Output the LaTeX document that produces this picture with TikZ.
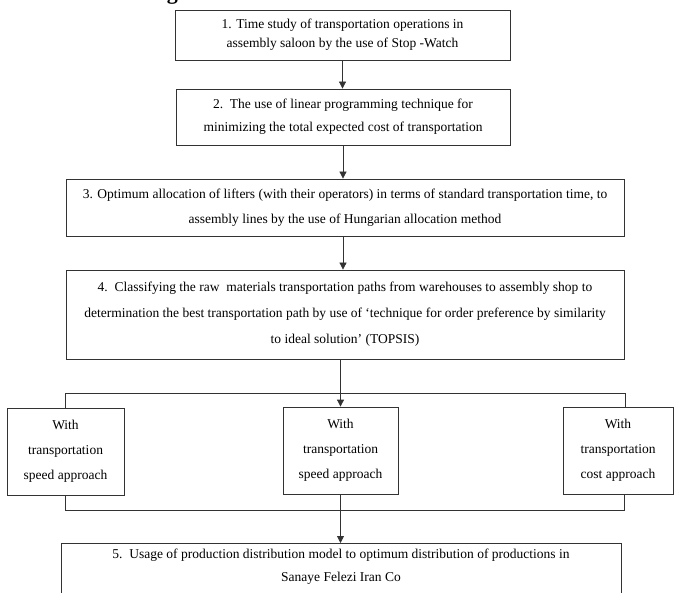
\documentclass[tikz,border=0pt]{standalone}
\usepackage{fontspec}
\setmainfont{Liberation Serif}
\usetikzlibrary{arrows.meta}

\begin{document}
\begin{tikzpicture}[x=1pt, y=-1pt,
    stage/.style={draw=black!80, line width=0.8pt, align=center, inner sep=0pt},
    approach/.style={stage, minimum height=87pt, font=\fontsize{13.5}{25}\selectfont},
    link/.style={draw=black!80, line width=0.8pt},
    flow/.style={link, -{Triangle[length=7pt, width=7pt]}}]

  % page frame
  \useasboundingbox (0,0) rectangle (674,593);
  \clip (0,0) rectangle (674,593);

  % caption, cut off by the top edge
  \node[font=\fontsize{22}{26}\selectfont\bfseries, anchor=base west, inner sep=0pt] (caption) at (147,0) {Figure 1: Research Framework Model};

  % stages 1 to 4
  \node[stage, minimum width=335pt, minimum height=50pt, font=\fontsize{13.5}{19}\selectfont] (s1) at (342.5,35)
    {1. Time study of transportation operations in\\assembly saloon by the use of Stop -Watch};
  \node[stage, minimum width=334pt, minimum height=56pt, font=\fontsize{13.5}{23}\selectfont] (s2) at (343,117)
    {2.\ \ The use of linear programming technique for\\minimizing the total expected cost of transportation};
  \node[stage, minimum width=558pt, minimum height=57pt, font=\fontsize{13.5}{25}\selectfont] (s3) at (345,207.5)
    {3. Optimum allocation of lifters (with their operators) in terms of standard transportation time, to\\assembly lines by the use of Hungarian allocation method};
  \node[stage, minimum width=558pt, minimum height=89pt, font=\fontsize{13.5}{26}\selectfont] (s4) at (345,314.5)
    {4.\ \ Classifying the raw\ \ materials transportation paths from warehouses to assembly shop to\\determination the best transportation path by use of ‘technique for order preference by similarity\\to ideal solution’ (TOPSIS)};

  % three approaches
  \node[approach, minimum width=117pt] (a1) at (65.5,451.5) {With\\transportation\\speed approach};
  \node[approach, minimum width=115pt] (a2) at (340.5,450.5) {With\\transportation\\speed approach};
  \node[approach, minimum width=110pt] (a3) at (618,450.5) {With\\transportation\\cost approach};

  % stage 5, running past the bottom edge
  \node[stage, minimum width=560pt, anchor=north, inner ysep=6pt, text depth=45pt, font=\fontsize{13.5}{23}\selectfont] (s5) at (341,543)
    {5.\ \ Usage of production distribution model to optimum distribution of productions in\\Sanaye Felezi Iran Co};

  % bracket ends
  \coordinate (topbar) at (0,393);
  \coordinate (botbar) at (0,510);
  \coordinate (rtop) at (625,407);
  \coordinate (rbot) at (624,494);

  % arrows
  \draw[flow] (s1.south) -- (s1.south |- s2.north);
  \draw[flow] (s2.south) -- (s2.south |- s3.north);
  \draw[flow] (s3.south -| s2.south) -- (s2.south |- s4.north);
  \draw[flow] (s4.south -| a2.north) -- (a2.north);
  \draw[link] (a1.north) |- (topbar -| rtop) -- (rtop);
  \draw[link] (a1.south) |- (botbar -| rbot) -- (rbot);
  \draw[flow] (a2.south) -- (a2.south |- s5.north);
\end{tikzpicture}
\end{document}
